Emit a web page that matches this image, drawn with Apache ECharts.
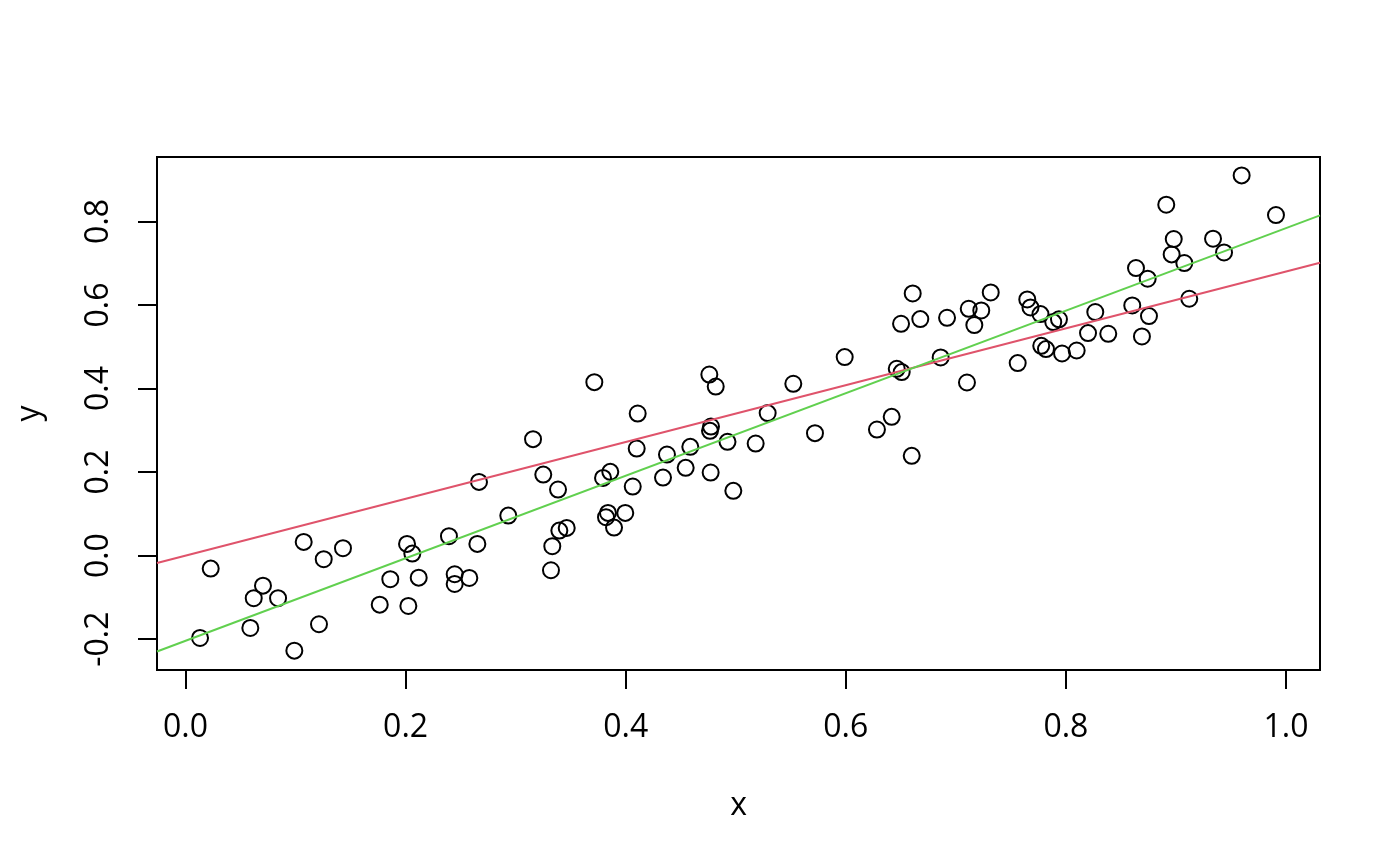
<!DOCTYPE html>
<html>
<head>
<meta charset="utf-8">
<script src="https://cdn.jsdelivr.net/npm/echarts@6/dist/echarts.min.js"></script>
<style>
  html, body { margin: 0; padding: 0; background: #ffffff; }
  #chart { width: 1400px; height: 866px; }
</style>
</head>
<body>
<div id="chart"></div>
<script>
// ---- data ----
const xValues = [
  0.0132, 0.0229, 0.0589, 0.0620, 0.0704, 0.0841, 0.0989, 0.1074, 0.1213, 0.1256,
  0.1431, 0.1765, 0.1861, 0.2013, 0.2025, 0.2061, 0.2119, 0.2394, 0.2446, 0.2446,
  0.2579, 0.2652, 0.2667, 0.2933, 0.3158, 0.3251, 0.3321, 0.3333, 0.3385, 0.3397,
  0.3464, 0.3715, 0.3794, 0.3821, 0.3839, 0.3860, 0.3894, 0.3996, 0.4064, 0.4100,
  0.4109, 0.4339, 0.4375, 0.4545, 0.4587, 0.4760, 0.4775, 0.4766, 0.4772, 0.4818,
  0.4925, 0.4978, 0.5181, 0.5290, 0.5523, 0.5720, 0.5990, 0.6283, 0.6417, 0.6463,
  0.6508, 0.6502, 0.6599, 0.6608, 0.6677, 0.6862, 0.6920, 0.7101, 0.7117, 0.7168,
  0.7231, 0.7317, 0.7562, 0.7649, 0.7678, 0.7769, 0.7776, 0.7819, 0.7885, 0.7937,
  0.7965, 0.8098, 0.8201, 0.8267, 0.8385, 0.8603, 0.8637, 0.8691, 0.8743, 0.8755,
  0.8912, 0.8961, 0.8980, 0.9076, 0.9121, 0.9337, 0.9437, 0.9597, 0.9909
];
const yValues = [
  -0.1971, -0.0311, -0.1732, -0.1020, -0.0719, -0.1020, -0.2275, 0.0328, -0.1643, -0.0086,
  0.0177, -0.1174, -0.0565, 0.0280, -0.1205, 0.0048, -0.0527, 0.0465, -0.0446, -0.0678,
  -0.0534, 0.0280, 0.1765, 0.0958, 0.2788, 0.1940, -0.0350, 0.0225, 0.1581, 0.0599,
  0.0663, 0.4153, 0.1861, 0.0920, 0.1023, 0.2005, 0.0671, 0.1023, 0.1653, 0.2563,
  0.3401, 0.1868, 0.2419, 0.2101, 0.2604, 0.4335, 0.3090, 0.2987, 0.1988, 0.4048,
  0.2723, 0.1550, 0.2683, 0.3411, 0.4113, 0.2932, 0.4752, 0.3018, 0.3322, 0.4472,
  0.4393, 0.5550, 0.2388, 0.6275, 0.5662, 0.4743, 0.5693, 0.4144, 0.5909, 0.5519,
  0.5868, 0.6299, 0.4608, 0.6132, 0.5940, 0.5782, 0.5023, 0.4944, 0.5590, 0.5657,
  0.4838, 0.4910, 0.5327, 0.5830, 0.5310, 0.5988, 0.6884, 0.5246, 0.6628, 0.5734,
  0.8400, 0.7210, 0.7578, 0.7004, 0.6149, 0.7586, 0.7257, 0.9102, 0.8153
];
// fitted lines: [intercept, slope]
const redLine = [0.0, 0.680];
const greenLine = [-0.204, 0.988];
const xTicks = [0.0, 0.2, 0.4, 0.6, 0.8, 1.0];
const yTicks = [-0.2, 0.0, 0.2, 0.4, 0.6, 0.8];
const xRange = [-0.0259, 1.0309];
const yRange = [-0.2738, 0.9542];

// ---- chart ----
const chart = echarts.init(document.getElementById('chart'), null, { renderer: 'canvas' });
const font = '"Open Sans", "Noto Sans", sans-serif';
const pts = xValues.map((x, i) => [x, yValues[i]]);
const lineData = (c) => [[xRange[0], c[0] + c[1] * xRange[0]], [xRange[1], c[0] + c[1] * xRange[1]]];
const fmt = (v) => v.toFixed(1);

chart.setOption({
  animation: false,
  backgroundColor: '#ffffff',
  grid: {
    left: 157, top: 157, right: 80, bottom: 196,
    show: true, borderColor: '#000', borderWidth: 2, backgroundColor: 'transparent'
  },
  xAxis: {
    type: 'value', min: xRange[0], max: xRange[1],
    name: 'x', nameLocation: 'middle', nameGap: 120,
    nameTextStyle: { fontFamily: font, fontSize: 32, color: '#000' },
    axisLine: { show: true, onZero: false, lineStyle: { color: '#000', width: 2 } },
    axisTick: { show: true, customValues: xTicks, length: 19, lineStyle: { color: '#000', width: 2 } },
    axisLabel: { customValues: xTicks, formatter: fmt, margin: 42, fontFamily: font, fontSize: 32, color: '#000' },
    splitLine: { show: false }
  },
  yAxis: {
    type: 'value', min: yRange[0], max: yRange[1],
    name: 'y', nameLocation: 'middle', nameGap: 111, nameRotate: 90,
    nameTextStyle: { fontFamily: font, fontSize: 32, color: '#000' },
    axisLine: { show: true, onZero: false, lineStyle: { color: '#000', width: 2 } },
    axisTick: { show: true, customValues: yTicks, length: 19, lineStyle: { color: '#000', width: 2 } },
    axisLabel: { customValues: yTicks, formatter: fmt, margin: 42, rotate: 90, fontFamily: font, fontSize: 32, color: '#000' },
    splitLine: { show: false }
  },
  series: [
    {
      type: 'scatter', data: pts, symbol: 'circle', symbolSize: 16,
      itemStyle: { color: 'rgba(0,0,0,0)', borderColor: '#000', borderWidth: 2, opacity: 1 },
      silent: true
    },
    {
      type: 'line', data: lineData(redLine), showSymbol: false, symbol: 'none',
      lineStyle: { color: '#DF536B', width: 2 }, silent: true
    },
    {
      type: 'line', data: lineData(greenLine), showSymbol: false, symbol: 'none',
      lineStyle: { color: '#61D04F', width: 2 }, silent: true
    }
  ]
});
</script>
</body>
</html>
